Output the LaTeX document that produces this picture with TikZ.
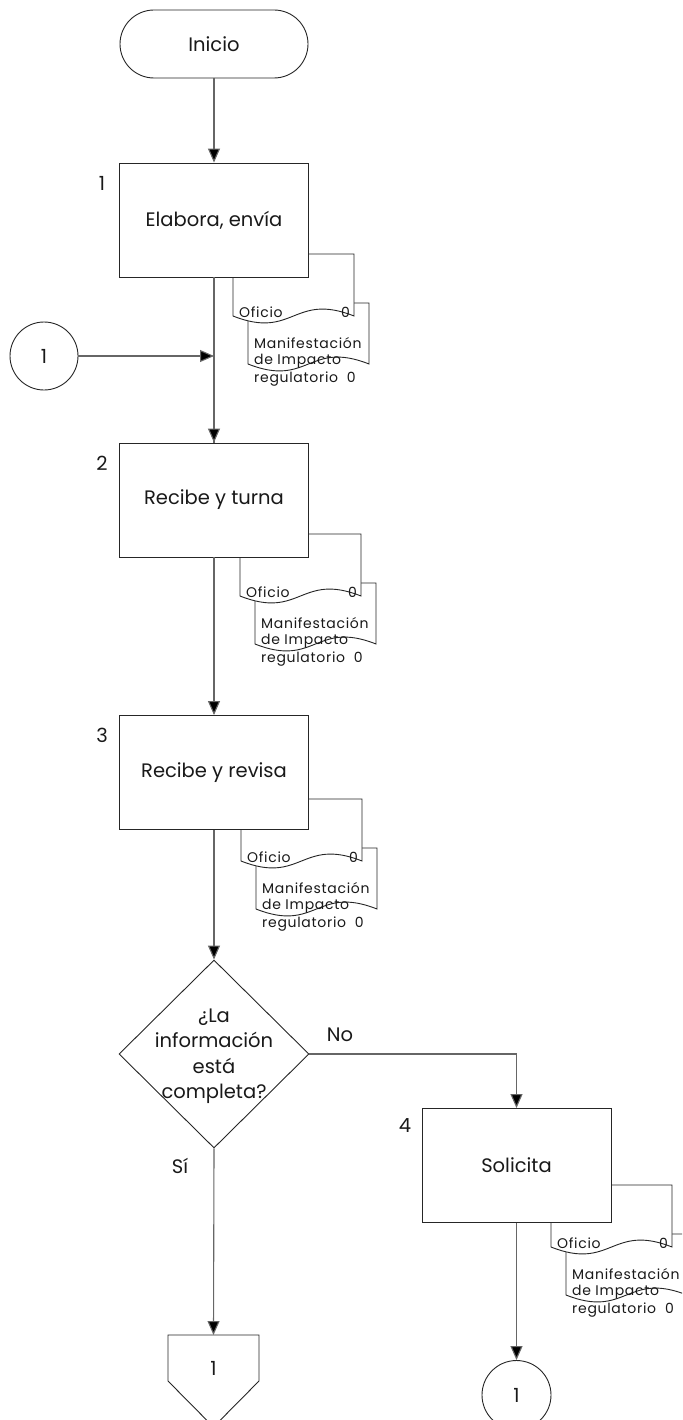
\documentclass[tikz,border=0pt]{standalone}
\usepackage{fontspec}
\setmainfont{Poppins}
\usetikzlibrary{arrows.meta,shapes.geometric}
\tikzset{
  x=1pt,y=-1pt,
  every node/.style={font=\fontsize{19.5}{23}\selectfont, text=black!90},
  shapeline/.style={draw=black!85, line width=0.9pt, fill=white},
  stepbox/.style={shapeline, rectangle, minimum width=189pt, minimum height=114pt, inner sep=0pt},
  conn/.style={draw=black!60, line width=1.1pt, -{Triangle[width=12pt,length=14pt,fill=black]}},
  plainconn/.style={draw=black!60, line width=1.1pt},
  doctext/.style={font=\fontsize{14}{16}\selectfont\addfontfeatures{LetterSpace=5}, anchor=west, inner sep=0pt},
  steplabel/.style={inner sep=0pt},
}
\newcommand\docpair[3]{%
  % second document (behind)
  \draw[shapeline] (#1+15,#2+49) -- (#1+136,#2+49) -- (#1+136,#2+110)
     .. controls (#1+75.5,#2+86) and (#1+75.5,#2+134) .. (#1+15,#2+110) -- cycle;
  % first document (front)
  \draw[shapeline] (#1,#2) -- (#1+121,#2) -- (#1+121,#2+62)
     .. controls (#1+60.5,#2+38) and (#1+60.5,#2+86) .. (#1,#2+62) -- cycle;
  \node[doctext] (#3of) at (#1+6,#2+58) {Oficio};
  \node[doctext] (#3oz) at (#1+108,#2+58) {0};
  \node[doctext] (#3m1) at (#1+21,#2+89) {Manifestación};
  \node[doctext] (#3m2) at (#1+21,#2+107) {de Impacto};
  \node[doctext] (#3m3) at (#1+21,#2+125) {regulatorio\ \ 0};
}
\begin{document}
\begin{tikzpicture}
\useasboundingbox (0,0) rectangle (682,1420);
\clip (0,0) rectangle (682,1420);

% start
\node[shapeline, rectangle, rounded corners=34pt, minimum width=188pt, minimum height=68pt, inner sep=0pt] (ini) at (214,44) {Inicio};

% documents (drawn before boxes so boxes overlap them)
\docpair{233}{254}{da}
\docpair{240}{534}{db}
\docpair{241}{799}{dc}
\docpair{551}{1185}{dd}

% steps
\node[stepbox] (s1) at (214,220) {Elabora, envía};
\node[steplabel] (l1) at (102,183) {1};
\node[stepbox] (s2) at (214,500) {Recibe y turna};
\node[steplabel] (l2) at (102,463) {2};
\node[stepbox] (s3) at (214,772.5) {Recibe y revisa};
\node[steplabel] (l3) at (102,735) {3};
\node[stepbox] (s4) at (516.5,1165.5) {Solicita};
\node[steplabel] (l4) at (405,1126) {4};

% decision
\node[shapeline, diamond, minimum width=190pt, minimum height=188pt, inner sep=0pt] (dec) at (214,1054) {};
\node[align=center, font=\fontsize{19.5}{25.5}\selectfont, inner sep=0pt] (dectext) at (214,1056) {¿La\\información\\está\\completa?};

% connectors
\node[shapeline, circle, minimum size=68pt, inner sep=0pt] (c1) at (44,356) {1};
\node[shapeline, circle, minimum size=69pt, inner sep=0pt] (c2) at (516.5,1395) {1};
\coordinate (j1) at (214,356);

% off-page connector
\draw[shapeline] (168,1335) -- (259,1335) -- (259,1381) -- (213.5,1427) -- (168,1381) -- cycle;
\node[steplabel] (op) at (213.5,1368) {1};
\coordinate (optop) at (213.5,1335);

% arrows
\draw[conn] (ini.south) -- (s1.north);
\draw[plainconn] (s1.south) -- (s2.north);
\draw[conn] (j1 |- s1.south) -- (s2.north);
\draw[conn] (c1.east) -- (j1);
\draw[conn] (s2.south) -- (s3.north);
\draw[conn] (s3.south) -- (dec.north);
\draw[conn] (dec.east) -| (s4.north);
\draw[conn] (dec.south) -- (optop);
\draw[conn] (s4.south) -- (c2.north);

% labels
\node (no) at (340,1035) {No};
\node (si) at (180,1166) {Sí};
\end{tikzpicture}
\end{document}
